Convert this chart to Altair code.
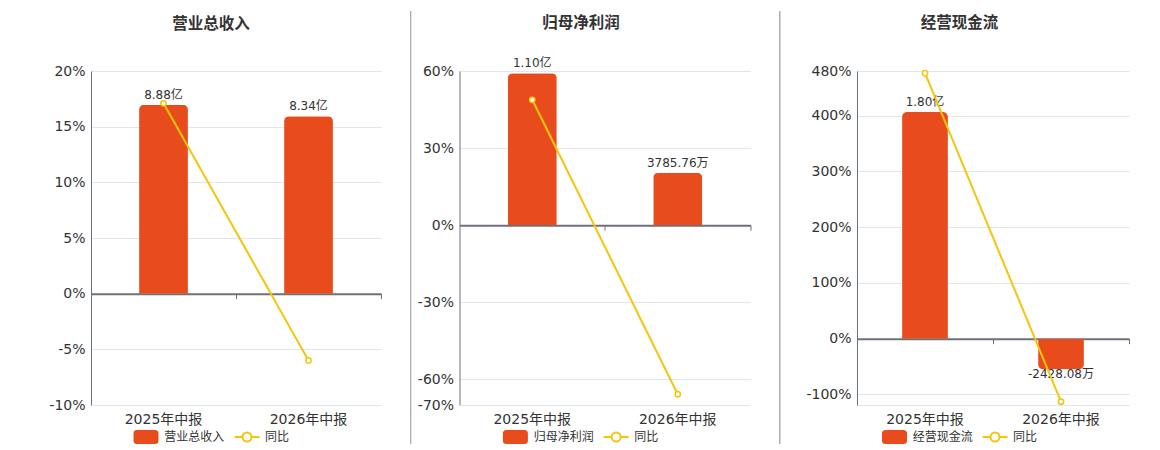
import altair as alt
import pandas as pd

# ---------------- data ----------------
categories = ["2025年中报", "2026年中报"]
panel_titles = ["营业总收入", "归母净利润", "经营现金流"]
yoy_name = "同比"

revenue_yi = [8.88, 8.34]
revenue_labels = ["8.88亿", "8.34亿"]
revenue_yoy = [17.1, -6.0]

profit_yi = [1.10, 0.378576]
profit_labels = ["1.10亿", "3785.76万"]
profit_yoy = [48.8, -65.8]

cashflow_yi = [1.80, -0.242808]
cashflow_labels = ["1.80亿", "-2428.08万"]
cashflow_yoy = [476.0, -113.0]

revenue_ticks = [20, 15, 10, 5, 0, -5, -10]
profit_ticks = [60, 30, 0, -30, -60, -70]
cashflow_ticks = [480, 400, 300, 200, 100, 0, -100, -119]
hidden_ticks = [[], [], [-119]]

yoy_domains = [[-10, 20], [-70, 60], [-119, 480]]
# hidden secondary (amount, 亿) axis, zero aligned with the % axis
amount_domains = [[-5.23, 10.46], [-1.302, 1.116], [-0.5272, 2.1264]]

# ---------------- style ----------------
ORANGE = "#E84C1D"
YELLOW = "#F3C60C"
AXIS = "#6E7079"
GRID = "#E0E6F1"
TEXT = "#333333"
SEP = "#AAAAAA"
FONT = "DejaVu Sans, Noto Sans CJK SC"

H = 334
widths = [290, 291, 272]
sep_x = [-77.5, -48.8, -77.2]
sep_opacity = [0, 1, 1]
title_dx = [-25, -24, -33.5]
legend_bar_x = [48, 48.9, 30.5]
legend_line_x = [148, 148.7, 130]

RECT_PATH = ("M-1.286,-1L1.286,-1Q1.786,-1 1.786,-0.5L1.786,0.5Q1.786,1 1.286,1"
             "L-1.286,1Q-1.786,1 -1.786,0.5L-1.786,-0.5Q-1.786,-1 -1.286,-1Z")
LINE_PATH = ("M-1.786,0L-0.643,0M0.643,0L1.786,0"
             "M0.643,0A0.643,0.643 0 1 1 -0.643,0A0.643,0.643 0 1 1 0.643,0")


def make_panel(i, amounts, labels, yoy, ticks):
    df = pd.DataFrame({
        "period": categories,
        "amount": amounts,
        "label": labels,
        "yoy": yoy,
        "bar_series": [panel_titles[i]] * len(categories),
        "line_series": [yoy_name] * len(categories),
    })
    base = alt.Chart(df)
    dmin, dmax = yoy_domains[i]
    W = widths[i]

    xscale = alt.Scale(domain=categories, paddingInner=0, paddingOuter=0)
    x_bottom = alt.X("period:N", scale=xscale, title=None,
                     axis=alt.Axis(orient="bottom", labelAngle=0, domain=False, ticks=False,
                                   grid=False, labelFont=FONT, labelFontSize=14,
                                   labelColor=TEXT, labelPadding=7))
    y_amt = alt.Y("amount:Q", axis=None,
                  scale=alt.Scale(domain=amount_domains[i], nice=False, zero=False))
    fill = alt.Fill("bar_series:N",
                    scale=alt.Scale(domain=[panel_titles[i]], range=[ORANGE]),
                    legend=alt.Legend(orient="none", legendX=legend_bar_x[i], legendY=359,
                                      title=None, direction="horizontal",
                                      symbolType=RECT_PATH, symbolSize=196,
                                      symbolStrokeWidth=0, labelFont=FONT,
                                      labelFontSize=12, labelColor=TEXT,
                                      labelOffset=11.3, padding=0))

    bar_pos = base.transform_filter("datum.amount >= 0").mark_bar(
        width=alt.RelativeBandSize(0.337), cornerRadiusTopLeft=5, cornerRadiusTopRight=5
    ).encode(x=x_bottom, y=y_amt, fill=fill)
    bar_neg = base.transform_filter("datum.amount < 0").mark_bar(
        width=alt.RelativeBandSize(0.337), cornerRadiusBottomLeft=5, cornerRadiusBottomRight=5
    ).encode(x=x_bottom, y=y_amt, fill=fill)
    txt_pos = base.transform_filter("datum.amount >= 0").mark_text(
        baseline="alphabetic", dy=-6, fontSize=12, font=FONT, color=TEXT
    ).encode(x=x_bottom, y=y_amt, text="label:N")
    txt_neg = base.transform_filter("datum.amount < 0").mark_text(
        baseline="top", dy=0, fontSize=12, font=FONT, color=TEXT
    ).encode(x=x_bottom, y=y_amt, text="label:N")
    bar_layer = alt.layer(bar_pos, bar_neg, txt_pos, txt_neg)

    off = -H * (0 - dmin) / (dmax - dmin)
    x_zero = alt.X("period:N", scale=xscale, title=None,
                   axis=alt.Axis(orient="bottom", offset=off, labels=False, grid=False,
                                 domain=True, domainColor=AXIS, domainWidth=2,
                                 ticks=True, tickColor=AXIS, tickWidth=1, tickSize=5,
                                 bandPosition=1))
    if hidden_ticks[i]:
        cond = " || ".join(f"datum.value == {v}" for v in hidden_ticks[i])
        label_expr = f"({cond}) ? '' : datum.value + '%'"
    else:
        label_expr = "datum.value + '%'"
    y_yoy = alt.Y("yoy:Q", scale=alt.Scale(domain=yoy_domains[i], nice=False, zero=False),
                  axis=alt.Axis(values=ticks, labelExpr=label_expr, title=None, grid=True,
                                gridColor=GRID, gridWidth=1, domain=True, domainColor=AXIS,
                                domainWidth=1, ticks=False, labelFont=FONT, labelFontSize=14,
                                labelColor=TEXT, labelPadding=6))
    stroke = alt.Stroke("line_series:N",
                        scale=alt.Scale(domain=[yoy_name], range=[YELLOW]),
                        legend=alt.Legend(orient="none", legendX=legend_line_x[i], legendY=358,
                                          title=None, direction="horizontal",
                                          symbolType=LINE_PATH, symbolSize=196,
                                          symbolStrokeWidth=2, symbolFillColor="white",
                                          labelFont=FONT, labelFontSize=12, labelColor=TEXT,
                                          labelOffset=10, padding=0))
    line = base.mark_line(strokeWidth=2).encode(x=x_zero, y=y_yoy, stroke=stroke)
    pts = base.mark_point(shape="circle", filled=True, fill="white", stroke=YELLOW,
                          strokeWidth=1.5, size=28, opacity=1).encode(x=x_zero, y=y_yoy)
    sep = base.mark_rule(color=SEP, strokeWidth=1, opacity=sep_opacity[i]).encode(
        x=alt.value(sep_x[i]), y=alt.value(-60), y2=alt.value(373))
    line_layer = alt.layer(sep, line, pts)

    return alt.layer(bar_layer, line_layer).resolve_scale(y="independent").resolve_axis(
        x="independent", y="independent"
    ).properties(
        width=W, height=H,
        title=alt.TitleParams(panel_titles[i], fontSize=15.5, fontWeight="bold", color=TEXT,
                              font=FONT, anchor="middle", frame="group", dx=title_dx[i],
                              baseline="bottom", offset=-36),
    )


panels = [
    make_panel(0, revenue_yi, revenue_labels, revenue_yoy, revenue_ticks),
    make_panel(1, profit_yi, profit_labels, profit_yoy, profit_ticks),
    make_panel(2, cashflow_yi, cashflow_labels, cashflow_yoy, cashflow_ticks),
]

chart = alt.hconcat(*panels, spacing=27.5).resolve_scale(
    x="independent", y="independent", fill="independent", stroke="independent"
).resolve_legend(fill="independent", stroke="independent").properties(
    padding={"left": 5, "top": 2, "right": 5, "bottom": 2}, background="white"
).configure_view(stroke=None)

chart.save("out.html", embed_options={"renderer": "svg", "actions": False})
